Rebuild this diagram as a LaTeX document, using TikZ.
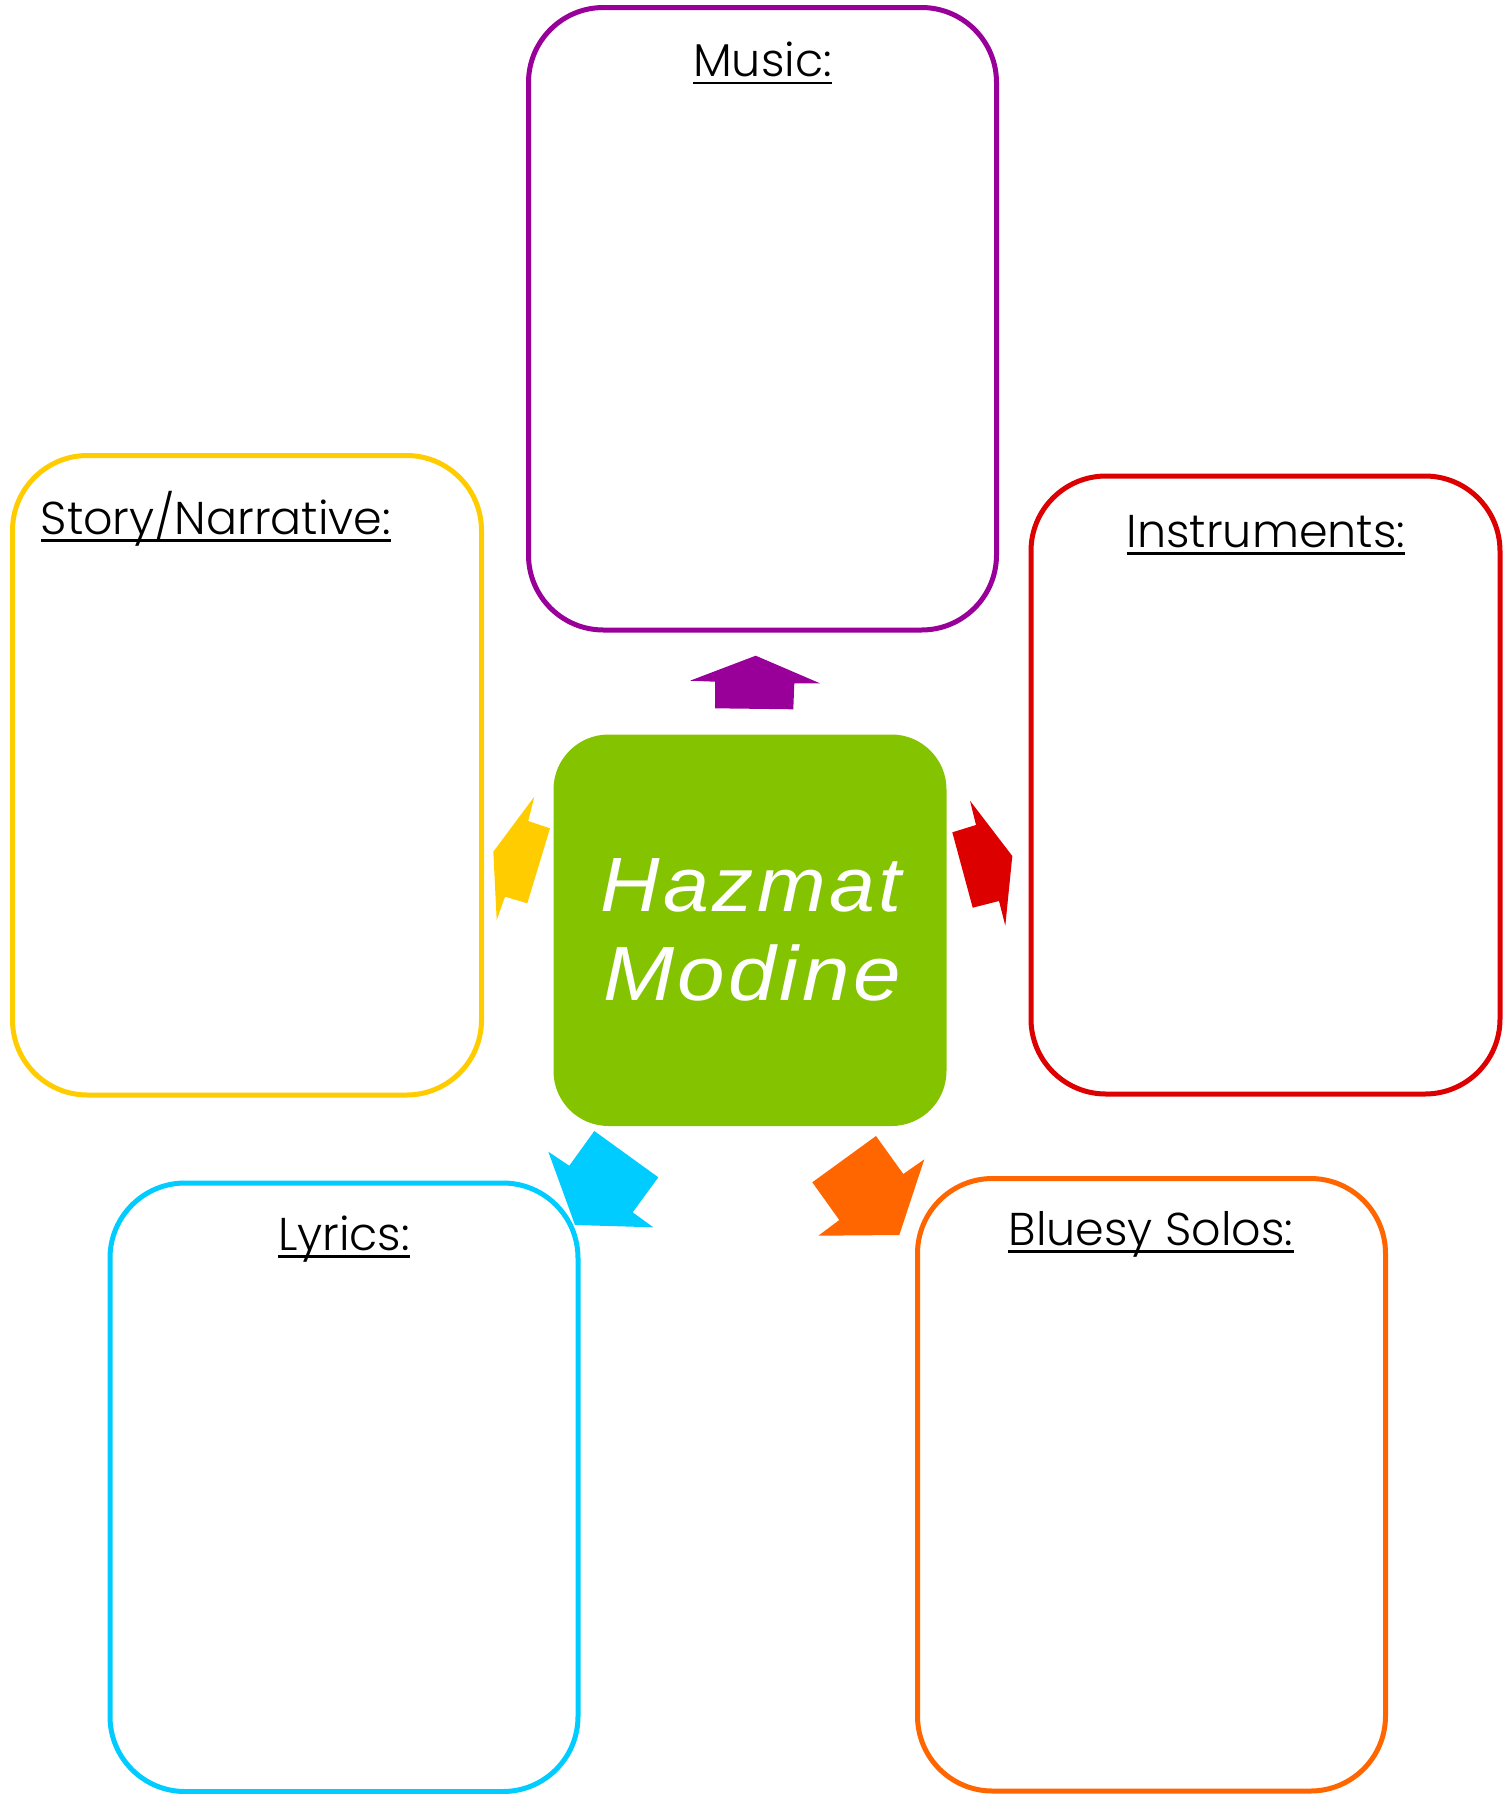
\documentclass[tikz,border=0pt]{standalone}
\usepackage{fontspec}
\IfFontExistsTF{Poppins Light}{\setmainfont{Poppins Light}}{\setmainfont{Poppins}}
\newfontfamily\hzfont[LetterSpace=4]{Liberation Sans}
\definecolor{cpurple}{HTML}{990099}
\definecolor{cyellow}{HTML}{FFCC00}
\definecolor{cred}{HTML}{DD0000}
\definecolor{ccyan}{HTML}{00CCFF}
\definecolor{corange}{HTML}{FF6600}
\definecolor{cgreen}{HTML}{84C300}
\begin{document}
\begin{tikzpicture}[x=1pt,y=-1pt,
  box/.style={draw, line width=5pt, rounded corners=75pt, inner sep=0pt},
  ttl/.style={font=\fontsize{46}{50}\selectfont, anchor=base, inner sep=0pt, text=black},
  uline/.style={line width=2.7pt, black},
  hz/.style={font=\hzfont\itshape\fontsize{77}{88}\selectfont, text=white, anchor=base, inner sep=0pt},
  blockarrow/.style={draw=none}]
\useasboundingbox (0,0) rectangle (1511,1794);
% outline boxes
\node[box, draw=cpurple, minimum width=468pt, minimum height=622.5pt] (music) at (762.5,318.75) {};
\node[box, draw=cyellow, minimum width=469pt, minimum height=639.5pt] (story) at (247,775.25) {};
\node[box, draw=cred, minimum width=469pt, minimum height=618pt] (instr) at (1265.5,785) {};
\node[box, draw=ccyan, minimum width=468pt, minimum height=608.5pt] (lyrics) at (344,1487.25) {};
\node[box, draw=corange, minimum width=468pt, minimum height=612.5pt] (blues) at (1151.5,1484.75) {};
% centre box
\node[fill=cgreen, rounded corners=55pt, inner sep=0pt, minimum width=393pt, minimum height=391.5pt] (hub) at (750,930.25) {};
\node[hz] (haz) at (751,911.7) {\scalebox{1.07}[1]{Hazmat}};
\node[hz] (mod) at (752,1000) {\scalebox{1.11}[1]{Modine}};
% titles
\node[ttl] (musicT) at (762.5,76.7) {Music:};
\node[ttl, anchor=base west] (storyT) at (40.5,534) {Story/Narrative:};
\node[ttl] (instrT) at (1266,547) {Instruments:};
\node[ttl] (lyricsT) at (344,1250) {Lyrics:};
\node[ttl] (bluesT) at (1151,1245) {Bluesy Solos:};
\foreach \t in {musicT,storyT,instrT,lyricsT,bluesT}
  \draw[uline] ([yshift=-6.3pt]\t.base west) -- ([yshift=-6.3pt]\t.base east);
% block arrows
\fill[cpurple, blockarrow] (755.7,655.7) -- (820,683.3) -- (794.3,683.3) -- (793.3,709.3) -- (715,708.3) -- (715,681.7) -- (690,680.7) -- cycle;
\fill[cyellow, blockarrow] (534.3,796.7) -- (528.3,821) -- (550,828.3) -- (527.3,903.3) -- (505,896.7) -- (496.7,920) -- (493.3,851.7) -- cycle;
\fill[cred, blockarrow] (970,800.7) -- (1012.3,856) -- (1005.3,925.7) -- (999,901) -- (972.7,907.7) -- (952.3,832.3) -- (976,825) -- cycle;
\fill[ccyan, blockarrow] (594.3,1131) -- (658.3,1177.3) -- (632.7,1212.3) -- (653.3,1227.3) -- (575,1225) -- (548.3,1151.7) -- (569.3,1165.7) -- cycle;
\fill[corange, blockarrow] (876,1136) -- (903.3,1174) -- (924.3,1159.3) -- (899.3,1235) -- (818.3,1235.7) -- (839.3,1220) -- (812.3,1182.3) -- cycle;
\end{tikzpicture}
\end{document}
